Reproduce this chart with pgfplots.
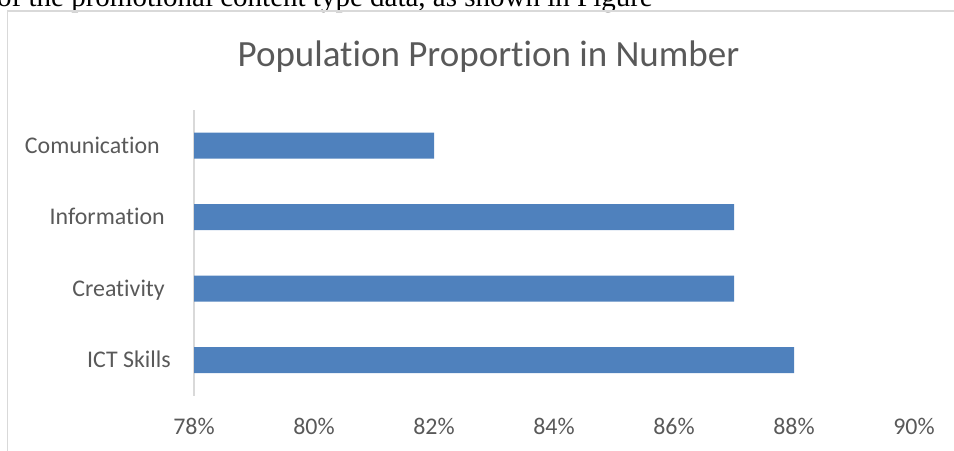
\documentclass[border=0pt]{standalone}
\usepackage{pgfplots}
\pgfplotsset{compat=1.18}
\usepackage{fontspec}
\setmainfont{Carlito}[Ligatures=NoCommon]
\newfontfamily\timesfont{Liberation Serif}
\definecolor{barblue}{HTML}{4F81BD}
\definecolor{txtgray}{HTML}{595959}
\definecolor{linegray}{HTML}{D9D9D9}
\begin{document}
\begin{tikzpicture}[x=1bp,y=1bp]
\clip (0,0) rectangle (954,451);
\node[anchor=base west, inner sep=0] at (-3,444) {\fontsize{29bp}{34bp}\selectfont\timesfont of the promotional content type data, as shown in Figure};
\draw[linegray, line width=1.5bp] (7.5,-20) -- (7.5,440) -- (990,440);
\node[anchor=base, inner sep=0, text=txtgray] at (488.5,384) {\fontsize{37bp}{44bp}\selectfont Population Proportion in Number};
\begin{axis}[
  at={(194bp,55bp)}, anchor=south west,
  scale only axis, width=720bp, height=286bp,
  xmin=78, xmax=90, ymin=-0.5, ymax=3.5,
  xbar, bar width=26bp,
  separate axis lines,
  axis x line*=bottom, axis y line*=left,
  x axis line style={draw=none},
  y axis line style={draw=linegray, line width=1.5bp},
  major tick length=0, tick style={draw=none},
  xtick={78,80,82,84,86,88,90},
  xticklabels={78\%,80\%,82\%,84\%,86\%,88\%,90\%},
  ytick={0,1,2,3},
  yticklabels={{ICT Skills}, {Creativity\rule{6bp}{0pt}}, {Information\rule{6bp}{0pt}}, {Comunication\rule{11bp}{0pt}}},
  ticklabel style={font=\fontsize{23.9bp}{28bp}\selectfont, text=txtgray, inner sep=0pt},
  xticklabel style={anchor=base, yshift=-39bp},
  yticklabel style={anchor=base east, xshift=-23bp, yshift=-7.6bp},
]
\addplot[fill=barblue, draw=none] coordinates {(88,0) (87,1) (87,2) (82,3)};
\end{axis}
\end{tikzpicture}
\end{document}
